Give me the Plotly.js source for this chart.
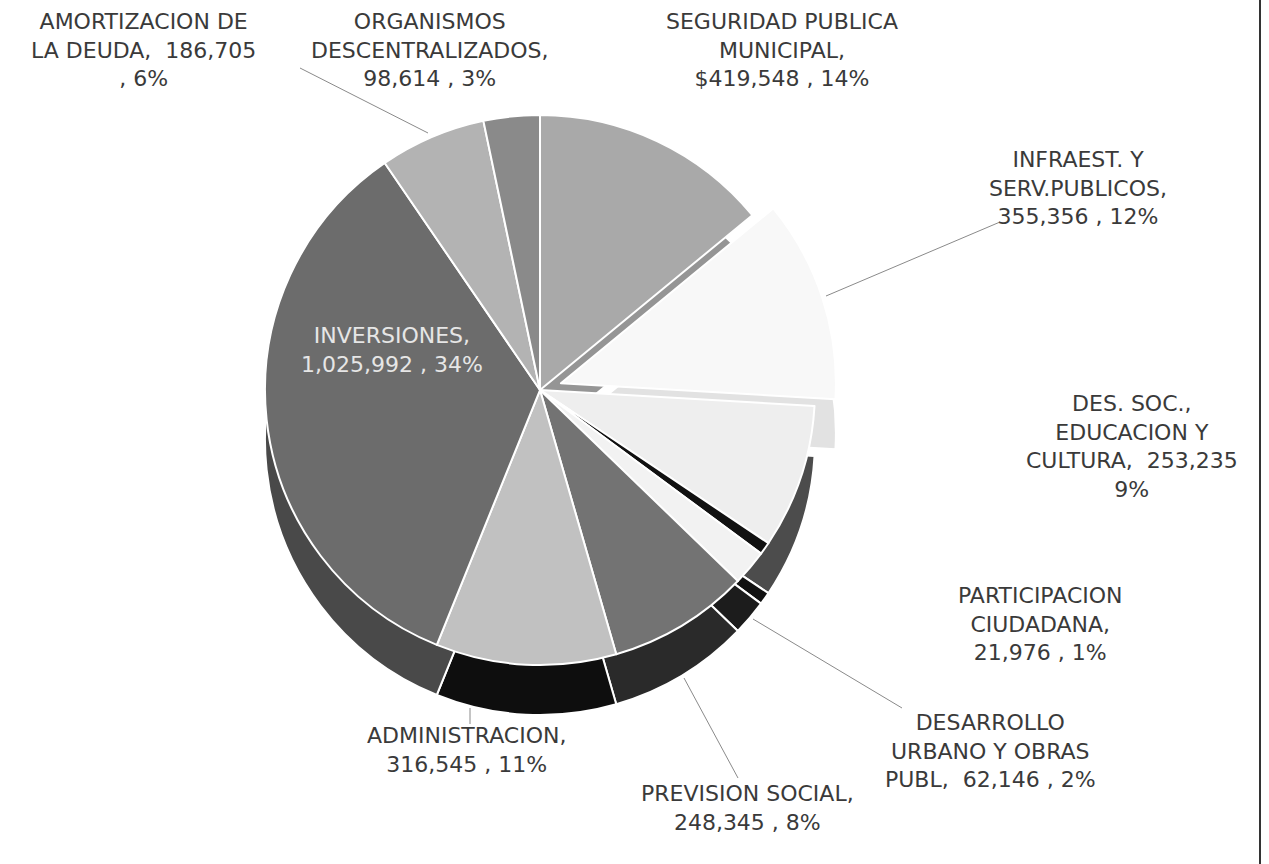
<!DOCTYPE html>
<html>
<head>
<meta charset="utf-8">
<script src="https://cdn.plot.ly/plotly-3.0.1.min.js"></script>
<style>html,body{margin:0;padding:0;background:#fff;}#chart{width:1269px;height:864px;}</style>
</head>
<body>
<div id="chart"></div>
<script>
// ---- data (clockwise from 12 o'clock) ----
const categories = [
  "SEGURIDAD PUBLICA MUNICIPAL",
  "INFRAEST. Y SERV.PUBLICOS",
  "DES. SOC., EDUCACION Y CULTURA",
  "PARTICIPACION CIUDADANA",
  "DESARROLLO URBANO Y OBRAS PUBL",
  "PREVISION SOCIAL",
  "ADMINISTRACION",
  "INVERSIONES",
  "AMORTIZACION DE LA DEUDA",
  "ORGANISMOS DESCENTRALIZADOS"
];
const values = [419548, 355356, 253235, 21976, 62146, 248345, 316545, 1025992, 186705, 98614];
const percents = [14, 12, 9, 1, 2, 8, 11, 34, 6, 3];
const labelTemplates = [
  "SEGURIDAD PUBLICA<br>MUNICIPAL,<br>${v} , {p}",
  "INFRAEST. Y<br>SERV.PUBLICOS,<br>{v} , {p}",
  "DES. SOC.,<br>EDUCACION Y<br>CULTURA,  {v}<br>{p}",
  "PARTICIPACION<br>CIUDADANA,<br>{v} , {p}",
  "DESARROLLO<br>URBANO Y OBRAS<br>PUBL,  {v} , {p}",
  "PREVISION SOCIAL,<br>{v} , {p}",
  "ADMINISTRACION,<br>{v} , {p}",
  "INVERSIONES,<br>{v} , {p}",
  "AMORTIZACION DE<br>LA DEUDA,  {v}<br>, {p}",
  "ORGANISMOS<br>DESCENTRALIZADOS,<br>{v} , {p}"
];
const pulls = [0, 0.08, 0, 0, 0, 0, 0, 0, 0, 0];

// ---- styling ----
const topColors  = ["#a9a9a9","#f8f8f8","#eeeeee","#111111","#f2f2f2","#737373","#c1c1c1","#6c6c6c","#b3b3b3","#8a8a8a"];
const sideColors = ["#959595","#e2e2e2","#4c4c4c","#111111","#1c1c1c","#2a2a2a","#0e0e0e","#494949","#777777","#555555"];
// label centre positions in pixels
const labelPos = [[782,50],[1078,188],[1132,446],[1040,624],[990,751],[747,808],[467,750],[392,350],[143,50],[430,50]];
const labelColor = ["#3a3a3a","#3a3a3a","#3a3a3a","#3a3a3a","#3a3a3a","#3a3a3a","#3a3a3a","#e6e6e6","#3a3a3a","#3a3a3a"];

const W = 1269, H = 864;
const px = x => x / W, py = y => 1 - y / H;

function fmt(v){ return v.toLocaleString('en-US'); }
const labelText = labelTemplates.map((t,i) => t.replace("{v}", fmt(values[i])).replace("{p}", percents[i] + "%"));

const common = {
  type: 'pie', values: values, labels: categories, sort: false,
  direction: 'clockwise', rotation: 0, pull: pulls,
  textinfo: 'none', hoverinfo: 'label+value+percent', showlegend: false
};
const sidePie = Object.assign({}, common, {
  marker: {colors: sideColors, line: {color: '#ffffff', width: 2}},
  domain: {x: [0.19149, 0.65957], y: [0.14699, 0.83449]}
});
const topPie = Object.assign({}, common, {
  marker: {colors: topColors, line: {color: '#ffffff', width: 2}},
  domain: {x: [0.19149, 0.65957], y: [0.20486, 0.89236]}
});

const annotations = labelText.map((t,i) => ({
  text: t, xref: 'paper', yref: 'paper',
  x: px(labelPos[i][0]), y: py(labelPos[i][1]),
  xanchor: 'center', yanchor: 'middle', align: 'center', showarrow: false,
  font: {family: 'DejaVu Sans, Verdana, sans-serif', size: 22, color: labelColor[i]}
}));

const lineStyle = {color: '#8a8a8a', width: 1};
const leaders = [
  [300,68,428,133],   // amortizacion
  [1000,222,826,296], // infraest
  [902,708,753,619],  // desarrollo
  [738,778,684,678],  // prevision
  [470,708,470,724]   // administracion
];
const shapes = leaders.map(l => ({type:'line', xref:'paper', yref:'paper',
  x0: px(l[0]), y0: py(l[1]), x1: px(l[2]), y1: py(l[3]), line: lineStyle}));
shapes.push({type:'line', xref:'paper', yref:'paper', x0: px(1260), x1: px(1260), y0: 0, y1: 1,
  line: {color:'#333333', width: 2}});

const layout = {
  width: W, height: H, margin: {l:0, r:0, t:0, b:0},
  paper_bgcolor: '#ffffff', plot_bgcolor: '#ffffff',
  annotations: annotations, shapes: shapes, showlegend: false
};
Plotly.newPlot('chart', [sidePie, topPie], layout, {displayModeBar: false, staticPlot: true});
</script>
</body>
</html>
